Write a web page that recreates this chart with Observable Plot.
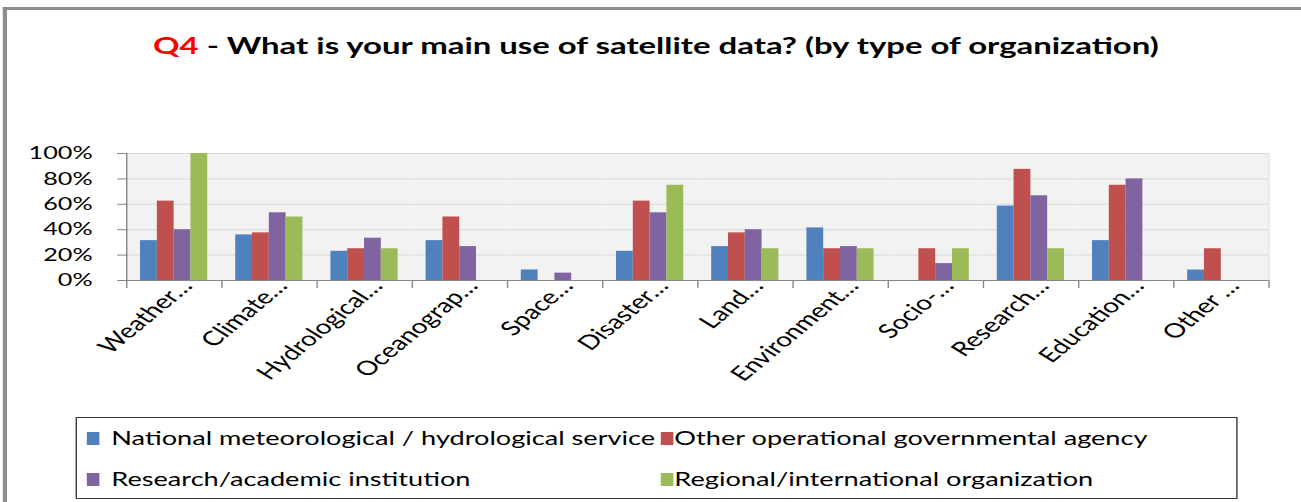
<!DOCTYPE html>
<html>
<head>
<meta charset="utf-8">
<script src="https://cdn.jsdelivr.net/npm/d3@7"></script>
<script src="https://cdn.jsdelivr.net/npm/@observablehq/plot@0.6"></script>
<style>
  html, body { margin: 0; padding: 0; background: #fff; overflow: hidden; }
  #page { position: relative; width: 929.3px; height: 502px; transform: scaleX(1.4); transform-origin: 0 0; font-family: Lato, sans-serif; color: #000; }
  #frameTop { position: absolute; left: 2.1px; top: 7px; width: 930px; height: 3px; background: #8e8e8e; }
  #frameLeft { position: absolute; left: 2.1px; top: 7px; width: 2.6px; height: 500px; background: #8e8e8e; }
  #title { position: absolute; left: 0; width: 937px; top: 33.5px; text-align: center; font-size: 23.5px; line-height: 23.5px; font-weight: 700; white-space: nowrap; }
  #title .q { color: #ff0000; }
  #chart { position: absolute; left: 0; top: 130px; }
  #legend { position: absolute; left: 54.3px; top: 417px; width: 827.9px; height: 79.5px; border: 1.5px solid #3a3a3a; }
  .item { position: absolute; font-size: 19.4px; line-height: 19.4px; white-space: nowrap; }
  .sw { position: absolute; width: 9px; height: 13px; }
</style>
</head>
<body>
<div id="page">
  <div id="frameTop"></div>
  <div id="frameLeft"></div>
  <div id="title"><span class="q">Q4</span> - What is your main use of satellite data? (by type of organization)</div>
  <div id="chart"></div>
  <div id="legend"></div>
</div>
<script>
const categories = ["Weather…", "Climate…", "Hydrological…", "Oceanograp…", "Space…", "Disaster…", "Land…", "Environment…", "Socio-…", "Research…", "Education…", "Other …"];
const seriesNames = ["National meteorological / hydrological service", "Other operational governmental agency", "Research/academic institution", "Regional/international organization"];
const colors = ["#4f81bd", "#c0504d", "#8064a2", "#9bbb59"];
const nmhs     = [31.4, 35.9, 23.0, 31.4, 8.3, 23.0, 26.7, 41.4, null, 58.6, 31.4, 8.2];
const otherGov = [62.5, 37.5, 25.0, 50.0, null, 62.5, 37.5, 25.0, 25.0, 87.5, 75.0, 25.0];
const research = [40.0, 53.3, 33.3, 26.7, 5.8, 53.3, 40.0, 26.7, 13.3, 66.7, 80.0, null];
const regional = [100, 50.0, 25.0, null, null, 75.0, 25.0, 25.0, 25.0, 25.0, null, null];
const yTicks = [0, 20, 40, 60, 80, 100];

const seriesValues = [nmhs, otherGov, research, regional];
const data = [];
categories.forEach((c, i) => seriesNames.forEach((s, j) => {
  const v = seriesValues[j][i];
  if (v != null) data.push({category: c, series: s, value: v});
}));

const W = 929.3, H = 280, mT = 23, mB = 130;
const plotH = H - mT - mB;
const axisGray = "#868686";

const chart = Plot.plot({
  width: W, height: H,
  marginTop: mT, marginBottom: mB, marginLeft: 85, marginRight: 19.3,
  style: {fontFamily: "Lato", fontSize: "18px", color: "#000", background: "transparent", overflow: "visible"},
  fx: {domain: categories, padding: 0, label: null},
  x: {domain: seriesNames, paddingInner: 0, paddingOuter: 0.79, axis: null},
  y: {domain: [0, 100], label: null},
  color: {domain: seriesNames, range: colors},
  marks: [
    Plot.frame({fill: "#f2f2f2", stroke: null}),
    Plot.gridY(yTicks.filter(d => d > 0), {stroke: "#d9d9d9", strokeOpacity: 1}),
    Plot.frame({anchor: "right", facetAnchor: "right", stroke: "#e4e4e4"}),
    Plot.barY(data, {fx: "category", x: "series", y: "value", fill: "series"}),
    Plot.ruleY([0], {stroke: axisGray}),
    Plot.frame({anchor: "left", facetAnchor: "left", stroke: axisGray}),
    Plot.frame({anchor: "left", stroke: axisGray, insetTop: plotH, insetBottom: -7}),
    Plot.frame({anchor: "right", facetAnchor: "right", stroke: axisGray, insetTop: plotH, insetBottom: -7}),
    Plot.axisY(yTicks, {tickFormat: d => d + "%", tickSize: 6.4, tickPadding: 18, stroke: axisGray, fill: "#000", label: null}),
    Plot.axisFx({anchor: "bottom", tickSize: 0, tickRotate: -49, tickPadding: 2, dx: 9, fill: "#000", fontSize: 20, label: null})
  ]
});
document.getElementById("chart").appendChild(chart);

const legend = document.getElementById("legend");
const rowTop = [10.4, 51.4];
seriesNames.forEach((s, j) => {
  const row = j < 2 ? 0 : 1;
  const col = j % 2;
  const swLeft = col === 0 ? 62.1 - 55.8 : 472.2 - 55.8;
  const txLeft = col === 0 ? 80 - 55.8 : 482.2 - 55.8;
  const sw = document.createElement("div");
  sw.className = "sw";
  sw.style.left = swLeft + "px";
  sw.style.top = (rowTop[row] + 3.5) + "px";
  sw.style.background = colors[j];
  legend.appendChild(sw);
  const t = document.createElement("div");
  t.className = "item";
  t.style.left = txLeft + "px";
  t.style.top = rowTop[row] + "px";
  t.textContent = s;
  legend.appendChild(t);
});
</script>
</body>
</html>
